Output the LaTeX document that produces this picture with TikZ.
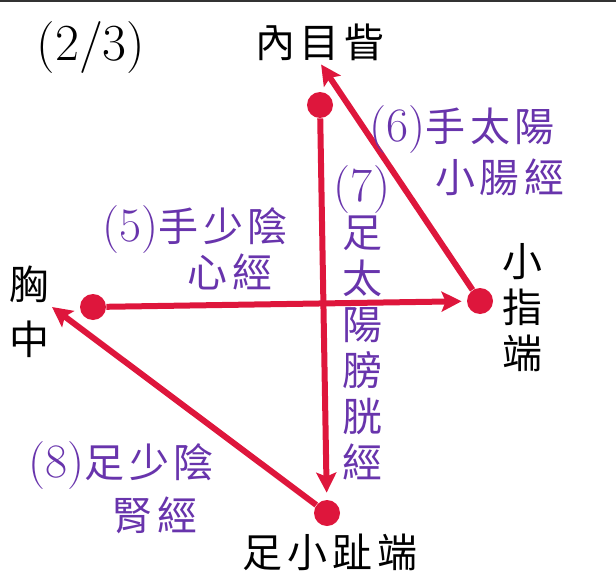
\documentclass[tikz,border=0pt]{standalone}
\usepackage{fontspec}
\newfontfamily\cjk{Noto Sans CJK TC}
\usetikzlibrary{arrows.meta}
\definecolor{jingred}{RGB}{222,22,60}
\definecolor{jingpurple}{RGB}{104,52,172}
\newcommand\gp{\hspace{0.12em}}
\newcommand\jnum[1]{{\rmfamily\fontsize{24}{24}\selectfont (#1)}}
\tikzset{
    dotnode/.style={circle, fill=jingred, minimum size=13pt, inner sep=0pt},
    jingarrow/.style={-{Stealth[length=10pt,width=10pt,inset=2pt]}, line width=3pt, draw=jingred},
    ptlabel/.style={font=\cjk\fontsize{20}{23}\selectfont, align=center, inner sep=1pt},
    jinglabel/.style={font=\cjk\fontsize{20}{23}\selectfont, text=jingpurple, align=center, inner sep=1pt}
}

\begin{document}
\begin{tikzpicture}[x=0.5pt, y=-0.5pt]
\useasboundingbox (0,0) rectangle (616,578);
\draw[line width=1pt, black!80] (0,1) -- (616,1);
% points
\node[dotnode] (neiyan) at (320,105) {};
\node[dotnode] (xiaozhi) at (480,301) {};
\node[dotnode] (xiong) at (93,307) {};
\node[dotnode] (zuxiao) at (327,513) {};
% point names
\node[font=\fontsize{26}{28}\selectfont] (part) at (91,48) {(2/3)};
\node[ptlabel] (neimu) at (320,42) {內\gp 目\gp 眥};
\node[ptlabel, font=\cjk\fontsize{20}{27.5}\selectfont] (xiongzh) at (30,312) {胸\\中};
\node[ptlabel] (xiaozhid) at (522,308) {小\\指\\端};
\node[ptlabel] (zuxiaod) at (330,552) {足\gp 小\gp 趾\gp 端};
\coordinate (xiongtip) at (52,307);
% meridians
\draw[jingarrow, shorten >=2.5pt] (xiong) -- (xiaozhi);
\draw[jingarrow, shorten >=1pt] (xiaozhi) -- (neimu.south);
\draw[jingarrow, shorten >=3.5pt] (neiyan) -- (zuxiao);
\draw[jingarrow] (zuxiao) -- (xiongtip);
% meridian names
\node[jinglabel] (j5a) at (195,230) {\jnum{5}手\gp 少\gp 陰};
\node[jinglabel] (j5b) at (230,272) {心\gp 經};
\node[jinglabel] (j6a) at (462,130) {\jnum{6}手\gp 太\gp 陽};
\node[jinglabel] (j6b) at (500,177) {小\gp 腸\gp 經};
\node[jinglabel] (j7) at (362,323) {\jnum{7}\\足\\太\\陽\\膀\\胱\\經};
\node[jinglabel] (j8a) at (121,466) {\jnum{8}足\gp 少\gp 陰};
\node[jinglabel] (j8b) at (155,515) {腎\gp 經};
\end{tikzpicture}
\end{document}
